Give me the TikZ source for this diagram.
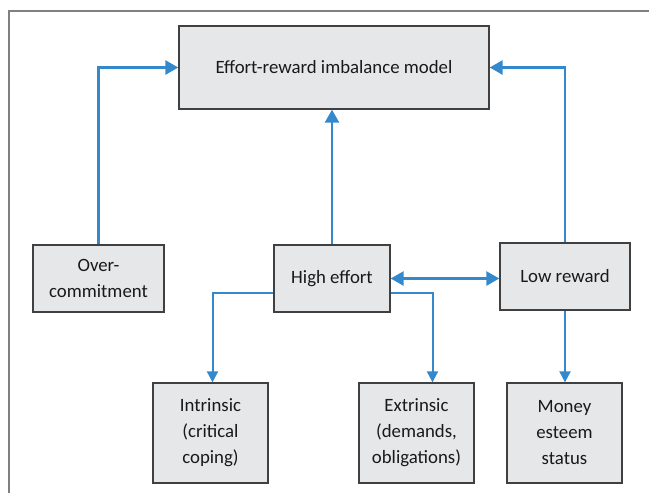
\documentclass[tikz,border=0pt]{standalone}
\usepackage{fontspec}
\setmainfont{Carlito}
\usetikzlibrary{arrows.meta}
\definecolor{boxgray}{RGB}{230,231,232}
\definecolor{arrblue}{RGB}{52,136,204}
\begin{document}
\begin{tikzpicture}[x=1pt,y=-1pt,
    box/.style={draw=black!75,line width=1.3pt,fill=boxgray,align=center,
      font=\fontsize{18.8}{26}\selectfont,text=black!90,inner sep=0pt},
    arr/.style={draw=arrblue,line width=2.6pt,-{Triangle[length=13pt,width=14pt]}},
    thin arr/.style={draw=arrblue,line width=2pt,-{Triangle[length=11pt,width=11pt]}}]
  \useasboundingbox (0,0) rectangle (649,493);
  \draw[black!50,line width=1.5pt] (9,493) -- (9,11) -- (649,11);
  \node[box,minimum width=310pt,minimum height=83pt] (model) at (334,67.5) {Effort-reward imbalance model};
  \node[box,minimum width=131pt,minimum height=67pt] (over) at (98.5,278.5) {Over-\\commitment};
  \node[box,minimum width=116pt,minimum height=67pt] (high) at (332,278.5) {High effort};
  \node[box,minimum width=130pt,minimum height=67pt] (low) at (565,276.5) {Low reward};
  \node[box,minimum width=115pt,minimum height=100pt] (intrinsic) at (210.5,433) {Intrinsic\\(critical\\coping)};
  \node[box,minimum width=115pt,minimum height=100pt] (extrinsic) at (416.5,433) {Extrinsic\\(demands,\\obligations)};
  \node[box,minimum width=115pt,minimum height=100pt] (money) at (564.5,433) {Money\\esteem\\status};
  % arrows into the model
  \draw[arr] (over.north) |- (model.west);
  \draw[arr] (low.north) |- (model.east);
  \draw[arr] (high.north) -- (high.north |- model.south);
  \draw[arr,{Triangle[length=13pt,width=14pt]}-{Triangle[length=13pt,width=14pt]}] (high.east) -- (high.east -| low.west);
  % arrows down
  \draw[thin arr] ([yshift=-14pt]high.west) -| ([xshift=2pt]intrinsic.north);
  \draw[thin arr] ([yshift=-14pt]high.east) -| ([xshift=16pt]extrinsic.north);
  \draw[thin arr] (low.south) -- (low.south |- money.north);
\end{tikzpicture}
\end{document}
